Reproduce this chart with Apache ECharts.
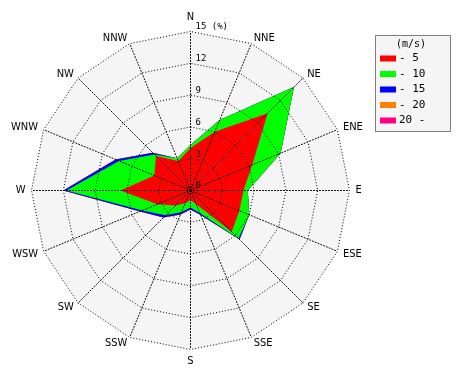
<!DOCTYPE html>
<html><head><meta charset="utf-8">
<script src="https://cdn.jsdelivr.net/npm/echarts@6/dist/echarts.min.js"></script>
<style>html,body{margin:0;padding:0;background:#fff}#c{width:470px;height:380px}</style>
</head><body><div id="c"></div>
<script>
// Directions, clockwise from North
const directions = ['N','NNE','NE','ENE','E','ESE','SE','SSE','S','SSW','SW','WSW','W','WNW','NW','NNW'];
// Wind speed classes (m/s)
const speedClasses = ['- 5','- 10','- 15','- 20','20 -'];
const classColors = ['#ff0000','#00ff00','#0000ff','#ff8000','#ff0080'];
// Frequency (%) per direction for each speed class
const freq_0_5   = [4.0, 6.0, 10.3, 6.3, 5.0, 5.0, 5.5, 1.4, 0.9, 1.3, 2.0, 3.4, 6.6, 3.7, 4.6, 3.0];
const freq_5_10  = [0.3, 1.2, 3.5, 2.9, 0.4, 1.0, 0.9, 0.9, 0.7, 0.9, 1.3, 1.5, 5.1, 3.6, 0.2, 0.3];
const freq_10_15 = [0, 0, 0, 0, 0, 0, 0.15, 0.2, 0.2, 0.25, 0.3, 0.25, 0.3, 0.35, 0.25, 0];
const freq_15_20 = [0, 0, 0, 0, 0, 0, 0, 0, 0, 0, 0, 0, 0, 0, 0, 0];
const freq_20up  = [0, 0, 0, 0, 0, 0, 0, 0, 0, 0, 0, 0, 0, 0, 0, 0];
const radialMax = 15;
const radialSplits = 5;

const bins = [freq_0_5, freq_5_10, freq_10_15, freq_15_20, freq_20up];
// cumulative (stacked) totals per class
const cumulative = [];
bins.forEach((b, k) => {
  cumulative.push(b.map((v, i) => +(v + (k ? cumulative[k-1][i] : 0)).toFixed(3)));
});
// radar goes counter-clockwise: reorder so directions run clockwise
const order = directions.map((d, i) => (16 - i) % 16);
function makeIndicators(withLabel) {
  return order.map((idx, j) => {
    const ind = { name: directions[idx], min: 0, max: radialMax };
    if (withLabel && j === 0) {
      ind.axisLabel = {
        show: true, color: '#000', fontSize: 9, fontFamily: 'DejaVu Sans Mono',
        verticalAlign: 'bottom', align: 'left', margin: -5,
        formatter: v => v === radialMax ? v + ' (%)' : String(v)
      };
    }
    return ind;
  });
}

const series = [];
for (let k = bins.length - 1; k >= 0; k--) {
  series.push({
    type: 'radar', name: speedClasses[k], symbol: 'none', silent: true, radarIndex: 0, z: 2,
    lineStyle: { width: 0, color: classColors[k] },
    itemStyle: { color: classColors[k] },
    areaStyle: { color: classColors[k], opacity: 1 },
    data: [{ value: order.map(idx => cumulative[k][idx]), name: speedClasses[k] }]
  });
}

const commonRadar = { center: [190.5, 190.5], radius: 159, startAngle: 90, shape: 'polygon', splitNumber: radialSplits };

const chart = echarts.init(document.getElementById('c'), null, { renderer: 'canvas' });
chart.setOption({
  animation: false,
  title: { text: '(m/s)', left: 396, top: 39, padding: 0,
    textStyle: { fontSize: 10, fontWeight: 'normal', fontFamily: 'DejaVu Sans Mono', color: '#000' } },
  graphic: [{ type: 'rect', left: 375, top: 35, z: -1,
    shape: { width: 75, height: 96 },
    style: { fill: '#f5f5f5', stroke: '#000', lineWidth: 1, lineDash: [1, 1] } }],
  legend: {
    orient: 'vertical', left: 376, top: 53, padding: [0, 0, 0, 4],
    itemWidth: 16, itemHeight: 6, itemGap: 4.5, icon: 'rect',
    data: speedClasses,
    textStyle: { fontSize: 11, fontFamily: 'DejaVu Sans Mono', color: '#000', padding: [0,0,0,-2] },
    selectedMode: false
  },
  radar: [
    Object.assign({}, commonRadar, {
      z: 1,
      indicator: makeIndicators(false),
      axisName: { show: false },
      axisLine: { show: false },
      splitLine: { show: false },
      splitArea: { areaStyle: { color: ['#f5f5f5'] } },
      axisLabel: { show: false },
      axisTick: { show: false }
    }),
    Object.assign({}, commonRadar, {
      z: 3,
      indicator: makeIndicators(true),
      axisName: { color: '#000', fontSize: 11, fontFamily: 'Liberation Sans Narrow, DejaVu Sans Condensed, Liberation Sans' },
      nameGap: 6,
      axisLine: { lineStyle: { color: '#000', type: [1, 2], width: 1 } },
      splitLine: { lineStyle: { color: '#000', type: [1, 2], width: 1 } },
      splitArea: { show: false },
      axisLabel: { show: false },
      axisTick: { show: false }
    })
  ],
  series: series
});
</script></body></html>
